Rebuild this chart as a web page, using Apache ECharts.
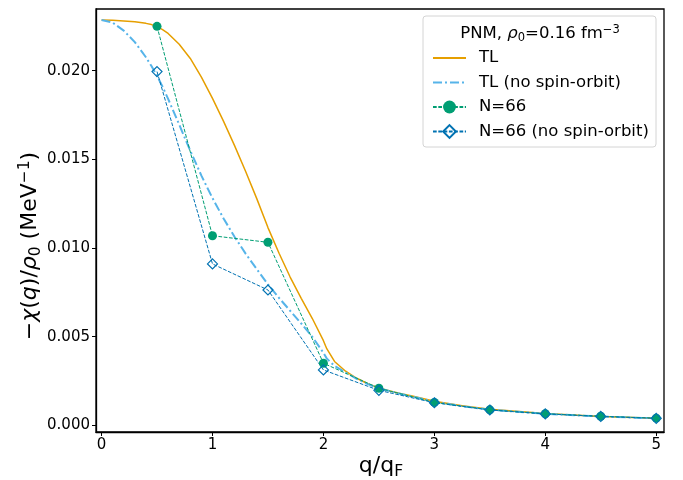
<!DOCTYPE html>
<html><head><meta charset="utf-8">
<script src="https://cdn.jsdelivr.net/npm/echarts@6/dist/echarts.min.js"></script>
<style>html,body{margin:0;padding:0;background:#fff}#c{width:683px;height:480px}</style>
</head><body><div id="c"></div>
<script>
const qTL = [0,0.1,0.2,0.3,0.4,0.45,0.5,0.55,0.6,0.7,0.8,0.9,1.0,1.1,1.2,1.3,1.4,1.5,1.6,1.7,1.8,1.9,2.0,2.03,2.1,2.2,2.3,2.4,2.5,2.6,2.7,2.8,3.0,3.25,3.5,4.0,4.5,5.0];
const tl = [0.02286,0.02285,0.02281,0.02276,0.02267,0.02260,0.02249,0.02232,0.02210,0.02149,0.02069,0.01964,0.01844,0.01714,0.01576,0.01430,0.01277,0.01115,0.00970,0.00836,0.00716,0.00602,0.00477,0.00432,0.00360,0.00305,0.00265,0.00234,0.00210,0.00193,0.00178,0.00165,0.00136,0.00110,0.00091,0.00066,0.00050,0.00040];
const tlNoSO = [0.02286,0.02271,0.02226,0.02161,0.02076,0.02026,0.01971,0.01910,0.01841,0.01696,0.01548,0.01408,0.01281,0.01166,0.01062,0.00967,0.00880,0.00795,0.00718,0.00646,0.00574,0.00499,0.00409,0.00376,0.00335,0.00298,0.00262,0.00232,0.00209,0.00192,0.00176,0.00162,0.00133,0.00107,0.00088,0.00065,0.00049,0.00039];
const qN = [0.5,1,1.5,2,2.5,3,3.5,4,4.5,5];
const n66 = [0.02250,0.01069,0.01032,0.00350,0.00209,0.00129,0.00087,0.00065,0.00051,0.00040];
const n66NoSO = [0.01995,0.00910,0.00763,0.00312,0.00197,0.00127,0.00086,0.00064,0.00050,0.00039];
const xTicks = [0,1,2,3,4,5];
const yTicks = [0,0.005,0.010,0.015,0.020];

const zip = (xs, ys) => xs.map((x, i) => [x, ys[i]]);
const FONT = 'DejaVu Sans';
const chart = echarts.init(document.getElementById('c'), null, {renderer: 'canvas'});
chart.setOption({
  animation: false,
  backgroundColor: '#fff',
  grid: {left: 96, top: 9, width: 568, height: 423, show: true, borderColor: '#000', borderWidth: 1.3, backgroundColor: 'transparent'},
  xAxis: {
    type: 'value', min: -0.05, max: 5.07,
    axisLine: {show: true, onZero: false, lineStyle: {color: '#000', width: 1.3}},
    axisTick: {show: true, length: 4, customValues: xTicks, lineStyle: {color: '#000', width: 1}},
    axisLabel: {customValues: xTicks, color: '#000', fontFamily: FONT, fontSize: 15, margin: 6},
    splitLine: {show: false}
  },
  yAxis: {
    type: 'value', min: -0.00038, max: 0.02348,
    axisLine: {show: true, onZero: false, lineStyle: {color: '#000', width: 1.3}},
    axisTick: {show: true, length: 4, customValues: yTicks, lineStyle: {color: '#000', width: 1}},
    axisLabel: {customValues: yTicks, color: '#000', fontFamily: FONT, fontSize: 15, margin: 6, formatter: v => v.toFixed(3)},
    splitLine: {show: false}
  },
  legend: {
    orient: 'vertical', left: 432, top: 48.5, padding: 0, z: 20,
    itemWidth: 33, itemHeight: 16, itemGap: 5.5,
    textStyle: {color: '#000', fontFamily: FONT, fontSize: 16.5, lineHeight: 19, padding: [0, 0, 0, 8]},
    data: [
      {name: 'TL', itemStyle: {opacity: 0}},
      {name: 'TL (no spin-orbit)', itemStyle: {opacity: 0}},
      'N=66',
      'N=66 (no spin-orbit)'
    ]
  },
  graphic: [
    {type: 'rect', z: 15, shape: {x: 423, y: 16, width: 233, height: 131, r: 3},
     style: {fill: 'rgba(255,255,255,0.85)', stroke: '#d4d4d4', lineWidth: 1}},
    {type: 'text', z: 21, x: 540, y: 34,
     style: {text: 'PNM, {i|ρ}{sub|0}=0.16 fm{sup|−3}', align: 'center', verticalAlign: 'middle',
       font: '16.5px "DejaVu Sans"', fill: '#000',
       rich: {i: {fontStyle: 'italic', fontSize: 16.5, fontFamily: FONT},
              sub: {fontSize: 11.5, fontFamily: FONT, padding: [8, 0, 0, 0]},
              sup: {fontSize: 11.5, fontFamily: FONT, padding: [0, 0, 8, 0]}}}},
    {type: 'text', z: 21, x: 30, y: 246, rotation: Math.PI / 2,
     style: {text: '−{i|χ}({i|q})/{i|ρ}{sub|0} (MeV{sup|−1})', align: 'center', verticalAlign: 'middle',
       font: '22px "DejaVu Sans"', fill: '#000',
       rich: {i: {fontStyle: 'italic', fontSize: 22, fontFamily: FONT},
              sub: {fontSize: 15.5, fontFamily: FONT, padding: [11, 0, 0, 0]},
              sup: {fontSize: 15.5, fontFamily: FONT, padding: [0, 0, 11, 0]}}}},
    {type: 'text', z: 21, x: 381, y: 466,
     style: {text: 'q/q{sub|F}', align: 'center', verticalAlign: 'middle',
       font: '22px "DejaVu Sans"', fill: '#000',
       rich: {sub: {fontSize: 15.5, fontFamily: FONT, padding: [11, 0, 0, 0]}}}}
  ],
  series: [
    {name: 'TL', type: 'line', data: zip(qTL, tl), symbol: 'none',
     lineStyle: {color: '#E69F00', width: 1.5}, itemStyle: {color: '#E69F00'}},
    {name: 'TL (no spin-orbit)', type: 'line', data: zip(qTL, tlNoSO), symbol: 'none',
     lineStyle: {color: '#56B4E9', width: 2, type: [9, 3, 2, 3]}, itemStyle: {color: '#56B4E9'}},
    {name: 'N=66', type: 'line', data: zip(qN, n66), symbol: 'circle', symbolSize: 9, showSymbol: true,
     lineStyle: {color: '#009E73', width: 1, type: [3.7, 1.6]}, itemStyle: {color: '#009E73', borderWidth: 0}},
    {name: 'N=66 (no spin-orbit)', type: 'line', data: zip(qN, n66NoSO), symbol: 'diamond', symbolSize: 10, showSymbol: true,
     lineStyle: {color: '#0072B2', width: 1, type: [3.7, 1.6]}, itemStyle: {color: 'rgba(0,0,0,0)', borderColor: '#0072B2', borderWidth: 1.2}}
  ]
});
</script></body></html>
